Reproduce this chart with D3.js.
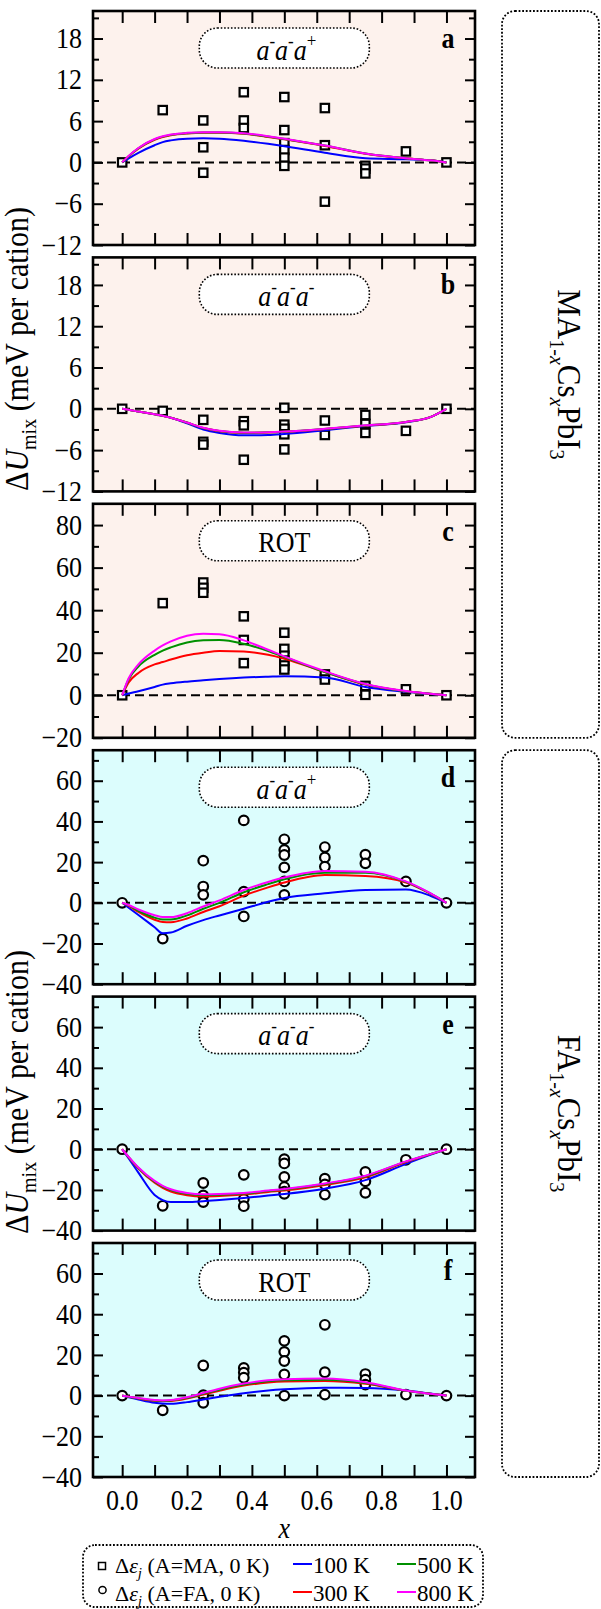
<!DOCTYPE html>
<html>
<head>
<meta charset="utf-8">
<script src="https://cdn.jsdelivr.net/npm/d3@7"></script>
<style>
  body { margin: 0; background: #fff; }
  svg { display: block; }
  text { font-family: "Liberation Serif", "Times New Roman", serif; fill: #000; }
</style>
</head>
<body>
<svg id="chart" width="601" height="1609"></svg>
<script>
// ---------- data ----------
// composition grid on which the fitted mixing-energy curves are tabulated
const xGrid = [0, 0.02, 0.05, 0.1, 0.125, 0.15, 0.2, 0.25, 0.3, 0.375, 0.45, 0.5, 0.625, 0.75, 0.875, 0.95, 1];
const temps = ["100 K", "300 K", "500 K", "800 K"];
const xTickLabels = [0, 0.2, 0.4, 0.6, 0.8, 1.0];

const yTicksMA = [-12, -6, 0, 6, 12, 18];
const yMinorMA = [-9, -3, 3, 9, 15, 21];
const yTicksRot = [-20, 0, 20, 40, 60, 80];
const yMinorRot = [-10, 10, 30, 50, 70];
const yTicksFA = [-40, -20, 0, 20, 40, 60];
const yMinorFA = [-30, -10, 10, 30, 50, 70];

// Δε_j of individual configurations [x, meV per cation]
const ptsMAplus = [[0,0],[0.125,7.6],[0.25,6.1],[0.25,2.2],[0.25,-1.5],[0.375,10.2],[0.375,6.1],[0.375,5.0],
  [0.5,9.5],[0.5,4.7],[0.5,2.8],[0.5,1.8],[0.5,0.7],[0.5,-0.5],[0.625,7.9],[0.625,2.5],[0.625,-5.7],
  [0.75,-0.5],[0.75,-0.9],[0.75,-1.6],[0.875,1.6],[1,0]];
const ptsMAminus = [[0,0],[0.125,-0.3],[0.25,-1.6],[0.25,-4.8],[0.25,-5.2],[0.375,-1.8],[0.375,-2.4],[0.375,-7.4],
  [0.5,0.15],[0.5,-2.3],[0.5,-2.9],[0.5,-3.7],[0.5,-5.9],[0.625,-1.7],[0.625,-3.8],
  [0.75,-0.9],[0.75,-2.2],[0.75,-3.5],[0.875,-3.2],[1,0]];
const ptsMArot = [[0,0],[0.125,43.3],[0.25,53.0],[0.25,50.5],[0.25,48.2],[0.375,37.1],[0.375,26.0],[0.375,15.1],
  [0.5,29.4],[0.5,21.8],[0.5,18.6],[0.5,16.3],[0.5,14.0],[0.5,12.1],[0.625,9.8],[0.625,7.4],
  [0.75,4.4],[0.75,0.2],[0.875,2.8],[1,0]];
const ptsFAplus = [[0,0],[0.125,-17.6],[0.25,20.7],[0.25,8.0],[0.25,3.9],[0.375,40.5],[0.375,5.5],[0.375,-6.7],
  [0.5,31.2],[0.5,26.0],[0.5,23.5],[0.5,17.4],[0.5,10.5],[0.5,3.9],[0.625,27.4],[0.625,22.3],[0.625,17.8],
  [0.75,23.7],[0.75,19.4],[0.875,10.5],[1,0]];
const ptsFAminus = [[0,0],[0.125,-27.8],[0.25,-16.6],[0.25,-22.7],[0.25,-26.0],[0.375,-12.6],[0.375,-24.5],[0.375,-28.0],
  [0.5,-4.9],[0.5,-7.0],[0.5,-13.6],[0.5,-18.6],[0.5,-20.8],[0.5,-21.9],[0.625,-14.5],[0.625,-17.3],[0.625,-22.3],
  [0.75,-11.2],[0.75,-15.8],[0.75,-21.4],[0.875,-5.2],[1,0]];
const ptsFArot = [[0,0],[0.125,-7.2],[0.25,14.8],[0.25,0.2],[0.25,-3.5],[0.375,13.6],[0.375,11.3],[0.375,8.8],
  [0.5,26.9],[0.5,21.5],[0.5,17.0],[0.5,10.4],[0.5,0],[0.625,34.8],[0.625,11.5],[0.625,0.5],
  [0.75,10.6],[0.75,7.8],[0.75,5.4],[0.875,0.5],[1,0]];

// fitted ΔU_mix on xGrid, one row per temperature (100, 300, 500, 800 K)
const fitsMAplus = [
  [0,0.6,1.4,2.5,2.95,3.2,3.45,3.5,3.45,3.15,2.7,2.35,1.4,0.6,0.45,0.3,0],
  [0,0.9,2.0,3.3,3.7,3.95,4.2,4.3,4.3,4.15,3.7,3.35,2.4,1.25,0.6,0.3,0],
  [0,0.9,2.05,3.35,3.75,4.0,4.25,4.35,4.35,4.2,3.75,3.4,2.45,1.3,0.6,0.3,0],
  [0,0.95,2.1,3.4,3.8,4.05,4.3,4.4,4.4,4.25,3.8,3.45,2.45,1.3,0.6,0.3,0]];
const fitsMAminus = [
  [0,-0.15,-0.4,-0.8,-1.0,-1.3,-2.1,-3.0,-3.5,-3.85,-3.8,-3.65,-3.1,-2.5,-1.95,-1.2,0],
  [0,-0.15,-0.4,-0.8,-1.0,-1.3,-2.0,-2.8,-3.25,-3.5,-3.45,-3.35,-2.95,-2.45,-1.9,-1.2,0],
  [0,-0.15,-0.4,-0.8,-1.0,-1.3,-2.0,-2.8,-3.22,-3.48,-3.42,-3.32,-2.92,-2.42,-1.9,-1.2,0],
  [0,-0.15,-0.4,-0.8,-1.0,-1.3,-2.0,-2.75,-3.2,-3.45,-3.4,-3.3,-2.9,-2.4,-1.9,-1.2,0]];
const fitsMArot = [
  [0,0.8,1.9,3.9,5.0,5.6,6.4,7.0,7.6,8.3,8.7,8.9,8.4,3.9,1.6,0.6,0],
  [0,6.0,10.5,14.5,15.6,16.8,18.8,20.0,20.8,20.6,19.0,17.2,10.9,5.0,1.9,0.7,0],
  [0,7.5,13.5,19.0,21.0,22.5,24.8,25.8,26.0,24.2,20.8,18.0,10.9,5.2,1.9,0.7,0],
  [0,8.0,14.5,21.0,23.4,25.3,28.0,28.9,28.7,25.8,21.4,18.3,11.3,5.3,2.0,0.7,0]];
const fitsFAplus = [
  [0,-2.4,-6.0,-12.0,-15.0,-14.6,-11.3,-8.5,-6.2,-2.9,0.5,2.4,4.7,6.3,6.5,3.5,0],
  [0,-1.5,-4.5,-8.3,-9.4,-9.5,-7.7,-4.5,-1.7,3.5,7.6,10.0,13.7,13.2,10.0,4.5,0],
  [0,-1.3,-3.9,-7.3,-8.2,-8.2,-6.2,-2.9,0,5.2,9.2,11.6,14.8,14.8,10.3,4.6,0],
  [0,-1.1,-3.3,-6.1,-7.0,-7.0,-5.1,-1.8,1.2,6.3,10.2,12.4,15.6,15.3,10.5,4.7,0]];
const fitsFAminus = [
  [0,-4.5,-11.5,-22.5,-25.0,-26.0,-26.0,-25.6,-25.0,-24.0,-22.8,-22.0,-19.4,-15.2,-7.2,-2.8,0],
  [0,-4.0,-9.5,-16.5,-19.0,-20.8,-22.6,-23.2,-23.0,-22.3,-21.0,-20.3,-17.6,-13.8,-6.3,-2.5,0],
  [0,-3.9,-9.2,-16.0,-18.4,-20.1,-21.9,-22.5,-22.4,-21.8,-20.6,-19.8,-17.1,-13.3,-6.1,-2.4,0],
  [0,-3.8,-9.0,-15.6,-18.0,-19.7,-21.5,-22.1,-22.0,-21.5,-20.3,-19.5,-16.8,-13.0,-6.0,-2.4,0]];
const fitsFArot = [
  [0,-0.8,-1.9,-3.5,-3.9,-4.0,-3.2,-1.9,-0.6,1.2,2.5,3.1,3.9,3.8,2.5,1.0,0],
  [0,-0.6,-1.4,-2.5,-2.7,-2.6,-1.4,0.5,2.4,4.9,6.4,6.9,7.2,5.8,2.4,0.9,0],
  [0,-0.55,-1.3,-2.35,-2.55,-2.4,-1.1,0.9,2.9,5.4,7.0,7.5,7.8,6.2,2.4,0.9,0],
  [0,-0.5,-1.2,-2.2,-2.4,-2.2,-0.8,1.3,3.4,5.9,7.5,8.0,8.4,6.6,2.5,0.9,0]];

// ---------- layout & style ----------
const svg = d3.select("#chart");
const plotL = 93, plotR = 475, panelH = 234;
const panelTops = [11, 257.4, 503.8, 750.2, 996.6, 1243];
const lineColors = ["#0000ff", "#ff0000", "#009000", "#ff00ff"];
const bgMA = "#fdf2ed", bgFA = "#dcfdfd";
const fs = 26;
const TALL = 1.1;   // the serif glyphs are drawn slightly tall

const x = d3.scaleLinear().domain([-0.09, 1.088]).range([plotL, plotR]);

const panels = [
  { letter: "a", tag: "plus",  dom: [-12, 22], major: yTicksMA,  minor: yMinorMA,  pts: ptsMAplus,  fits: fitsMAplus,  mark: "square", bg: bgMA },
  { letter: "b", tag: "minus", dom: [-12, 22], major: yTicksMA,  minor: yMinorMA,  pts: ptsMAminus, fits: fitsMAminus, mark: "square", bg: bgMA },
  { letter: "c", tag: "rot",   dom: [-20, 90], major: yTicksRot, minor: yMinorRot, pts: ptsMArot,   fits: fitsMArot,   mark: "square", bg: bgMA },
  { letter: "d", tag: "plus",  dom: [-40, 75], major: yTicksFA,  minor: yMinorFA,  pts: ptsFAplus,  fits: fitsFAplus,  mark: "circle", bg: bgFA },
  { letter: "e", tag: "minus", dom: [-40, 75], major: yTicksFA,  minor: yMinorFA,  pts: ptsFAminus, fits: fitsFAminus, mark: "circle", bg: bgFA },
  { letter: "f", tag: "rot",   dom: [-40, 75], major: yTicksFA,  minor: yMinorFA,  pts: ptsFArot,   fits: fitsFArot,   mark: "circle", bg: bgFA }
];

// text placed at (tx, ty) with a slight vertical stretch
function tallText(parent, tx, ty, k) {
  return parent.append("text").attr("transform", `translate(${tx},${ty}) scale(1,${k || TALL})`);
}

function tiltLabel(t, tag) {
  // a^- a^- a^{+/-} in italics with small superscripts
  const sups = tag === "plus" ? ["-", "-", "+"] : ["-", "-", "-"];
  sups.forEach((s, i) => {
    t.append("tspan").attr("font-style", "italic").attr("dy", i === 0 ? 0 : 11).text("a");
    t.append("tspan").attr("font-size", 17).attr("dy", -11).text(s);
  });
}

panels.forEach((p, i) => {
  const top = panelTops[i], bot = top + panelH;
  const y = d3.scaleLinear().domain(p.dom).range([bot, top]);
  const g = svg.append("g");

  g.append("rect").attr("x", plotL).attr("y", top).attr("width", plotR - plotL).attr("height", panelH)
    .attr("fill", p.bg);

  // zero reference
  g.append("line").attr("x1", plotL).attr("x2", plotR).attr("y1", y(0)).attr("y2", y(0))
    .attr("stroke", "#000").attr("stroke-width", 2).attr("stroke-dasharray", "9,5");

  // label box
  const bx = x(0.5);
  g.append("rect").attr("x", bx - 85).attr("y", top + 17).attr("width", 170).attr("height", 40)
    .attr("rx", 18).attr("fill", "#fff").attr("stroke", "#000").attr("stroke-width", 1.6)
    .attr("stroke-dasharray", "1.6,1.8");
  const lt = tallText(g, bx + (p.tag === "rot" ? 0 : 2), top + 48.5, 1.15)
    .attr("text-anchor", "middle").attr("font-size", 26);
  if (p.tag === "rot") lt.text("ROT"); else tiltLabel(lt, p.tag);

  // panel letter
  tallText(g, 448, top + 37).attr("text-anchor", "middle")
    .attr("font-size", fs).attr("font-weight", "bold").text(p.letter);

  // configuration energies
  if (p.mark === "square") {
    g.selectAll(".pt").data(p.pts).join("rect")
      .attr("x", d => x(d[0]) - 4.2).attr("y", d => y(d[1]) - 4.2).attr("width", 8.4).attr("height", 8.4)
      .attr("fill", "#fff").attr("stroke", "#000").attr("stroke-width", 2.2);
  } else {
    g.selectAll(".pt").data(p.pts).join("circle")
      .attr("cx", d => x(d[0])).attr("cy", d => y(d[1])).attr("r", 4.8)
      .attr("fill", "#fff").attr("stroke", "#000").attr("stroke-width", 2.2);
  }

  // fitted curves
  const line = d3.line().x(d => x(d[0])).y(d => y(d[1])).curve(d3.curveMonotoneX);
  p.fits.forEach((row, k) => {
    g.append("path").datum(xGrid.map((xv, j) => [xv, row[j]]))
      .attr("d", line).attr("fill", "none").attr("stroke", lineColors[k]).attr("stroke-width", 2);
  });

  // axes (ticks pointing inwards)
  const styleAxis = sel => {
    sel.select(".domain").remove();
    sel.selectAll(".tick line").attr("stroke", "#000").attr("stroke-width", 2);
    sel.selectAll(".tick text").attr("font-size", fs).attr("transform", `scale(1,${TALL})`);
  };
  g.append("g").attr("transform", `translate(${plotL},0)`)
    .call(d3.axisLeft(y).tickValues(p.major).tickSizeInner(-10).tickSizeOuter(0).tickPadding(11).tickFormat(d3.format("d")))
    .call(styleAxis);
  g.append("g").attr("transform", `translate(${plotL},0)`)
    .call(d3.axisLeft(y).tickValues(p.minor).tickSizeInner(-6).tickSizeOuter(0).tickFormat(""))
    .call(styleAxis);
  g.append("g").attr("transform", `translate(${plotR},0)`)
    .call(d3.axisRight(y).tickValues(p.major).tickSizeInner(-10).tickSizeOuter(0).tickFormat(""))
    .call(styleAxis);
  g.append("g").attr("transform", `translate(${plotR},0)`)
    .call(d3.axisRight(y).tickValues(p.minor).tickSizeInner(-6).tickSizeOuter(0).tickFormat(""))
    .call(styleAxis);
  const xt = d3.range(0, 11).map(v => v / 10);
  g.append("g").attr("transform", `translate(0,${top})`)
    .call(d3.axisTop(x).tickValues(xt).tickSizeInner(-12).tickSizeOuter(0).tickFormat(""))
    .call(styleAxis);
  g.append("g").attr("transform", `translate(0,${bot})`)
    .call(d3.axisBottom(x).tickValues(xt).tickSizeInner(-12).tickSizeOuter(0).tickFormat(""))
    .call(styleAxis);

  g.append("rect").attr("x", plotL).attr("y", top).attr("width", plotR - plotL).attr("height", panelH)
    .attr("fill", "none").attr("stroke", "#000").attr("stroke-width", 2.6);
});

// x tick labels and title
xTickLabels.forEach(d => {
  tallText(svg, x(d), 1510).attr("text-anchor", "middle").attr("font-size", fs).text(d.toFixed(1));
});
tallText(svg, x(0.5), 1538).attr("text-anchor", "middle")
  .attr("font-size", fs).attr("font-style", "italic").text("x");

// y titles
function yTitle(cy) {
  const t = svg.append("text").attr("transform", `translate(28,${cy}) rotate(-90) scale(1,${TALL})`)
    .attr("text-anchor", "middle").attr("font-size", 30);
  t.append("tspan").text("Δ");
  t.append("tspan").attr("font-style", "italic").text("U");
  t.append("tspan").attr("font-size", 20).attr("dy", 7).text("mix");
  t.append("tspan").attr("dy", -7).text(" (meV per cation)");
}
yTitle(349);
yTitle(1092);

// compound boxes on the right
function compoundLabel(y0, y1, cation) {
  svg.append("rect").attr("x", 502).attr("y", y0).attr("width", 97).attr("height", y1 - y0)
    .attr("rx", 13).attr("fill", "none").attr("stroke", "#000").attr("stroke-width", 1.8)
    .attr("stroke-dasharray", "1.8,1.8");
  const t = svg.append("text").attr("transform", `translate(558,${(y0 + y1) / 2}) rotate(90) scale(1,${TALL})`)
    .attr("text-anchor", "middle").attr("font-size", 31);
  t.append("tspan").text(cation);
  t.append("tspan").attr("font-size", 20).attr("dy", 7).text("1-");
  t.append("tspan").attr("font-size", 20).attr("font-style", "italic").text("x");
  t.append("tspan").attr("dy", -7).text("Cs");
  t.append("tspan").attr("font-size", 20).attr("font-style", "italic").attr("dy", 7).text("x");
  t.append("tspan").attr("dy", -7).text("PbI");
  t.append("tspan").attr("font-size", 20).attr("dy", 7).text("3");
}
compoundLabel(panelTops[0], panelTops[2] + panelH, "MA");
compoundLabel(panelTops[3], panelTops[5] + panelH, "FA");

// legend
const lg = svg.append("g");
lg.append("rect").attr("x", 83).attr("y", 1545).attr("width", 400).attr("height", 62).attr("rx", 12)
  .attr("fill", "none").attr("stroke", "#000").attr("stroke-width", 1.8).attr("stroke-dasharray", "1.8,1.8");
const lfs = 22;
function epsLabel(yb, cat) {
  const t = lg.append("text").attr("x", 115).attr("y", yb).attr("font-size", lfs);
  t.append("tspan").text("Δ");
  t.append("tspan").attr("font-style", "italic").text("ε");
  t.append("tspan").attr("font-style", "italic").attr("font-size", 15).attr("dy", 5).text("j");
  t.append("tspan").attr("dy", -5).text(` (A=${cat}, 0 K)`);
}
lg.append("rect").attr("x", 98.5).attr("y", 1562.5).attr("width", 7).attr("height", 7)
  .attr("fill", "#fff").attr("stroke", "#000").attr("stroke-width", 1.5);
epsLabel(1573, "MA");
lg.append("circle").attr("cx", 102.5).attr("cy", 1590).attr("r", 3.6)
  .attr("fill", "#fff").attr("stroke", "#000").attr("stroke-width", 1.5);
epsLabel(1601, "FA");
const legPos = [[293, 1564, 1573], [293, 1592, 1601], [397, 1564, 1573], [397, 1592, 1601]];
temps.forEach((tname, k) => {
  const [lx, ly, tb] = legPos[k];
  lg.append("line").attr("x1", lx).attr("x2", lx + 19).attr("y1", ly).attr("y2", ly)
    .attr("stroke", lineColors[k]).attr("stroke-width", 2);
  lg.append("text").attr("x", lx + 20).attr("y", tb).attr("font-size", lfs + 1).text(tname);
});
</script>
</body>
</html>
